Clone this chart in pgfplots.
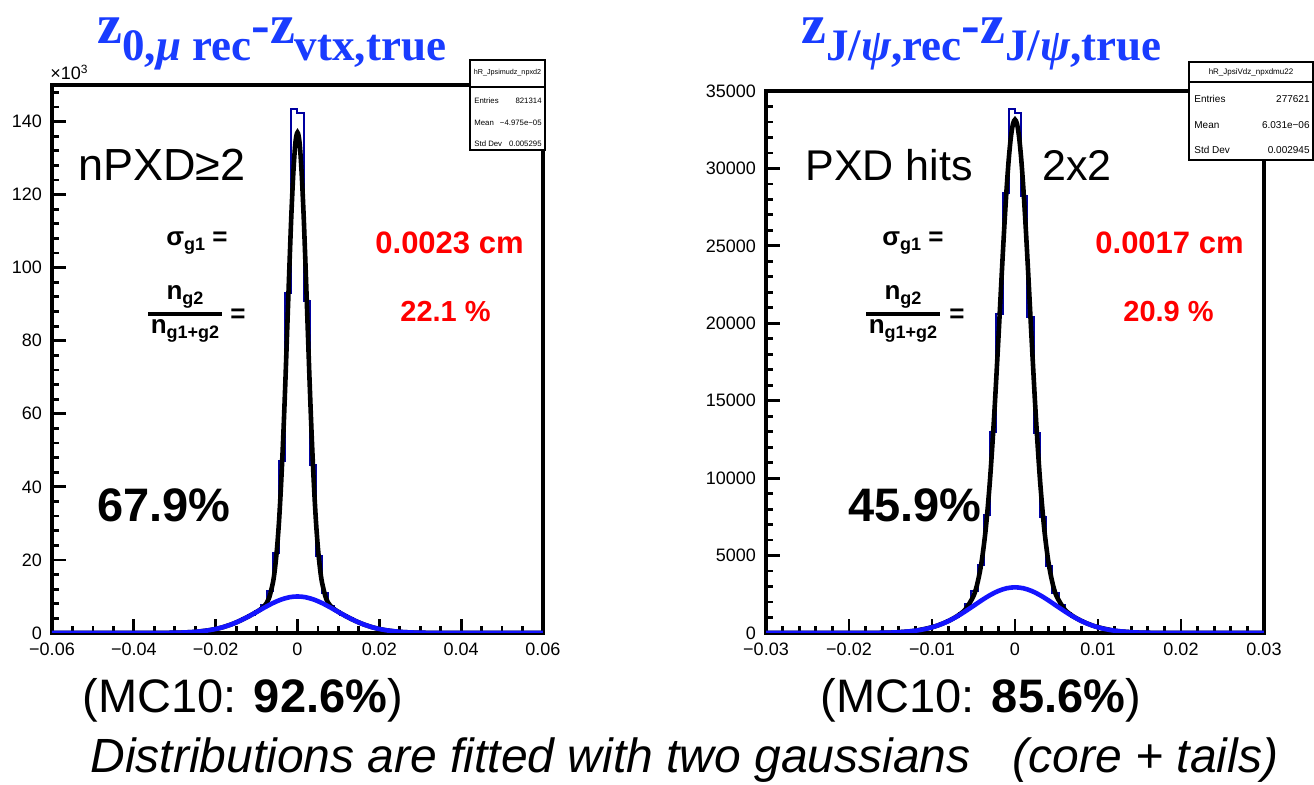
\documentclass[border=0pt]{standalone}
\usepackage{fontspec}
\setmainfont{Liberation Sans}
\newfontfamily\tnr{Liberation Serif}
\usepackage{pgfplots}
\pgfplotsset{compat=1.18}
\definecolor{histnavy}{RGB}{0,0,160}
\definecolor{fitblue}{RGB}{20,20,255}
\definecolor{titleblue}{RGB}{25,60,255}
\pgfplotsset{rootstyle/.style={
  scale only axis, anchor=south west, ymin=0,
  axis line style={line width=2pt},
  tick align=inside, xtick pos=lower, ytick pos=left,
  major tick length=7pt, minor tick length=3.5pt,
  every tick/.style={black, line width=1.4pt},
  tick label style={font=\fontsize{9}{10}\selectfont},
  yticklabel style={xshift=-1.5pt},
  xticklabel style={yshift=-1.5pt},
  scaled ticks=false,
}}
\newcommand{\fs}[1]{\fontsize{#1}{#1}\selectfont}
\begin{document}
\begin{tikzpicture}
\path[use as bounding box, fill=white] (0,0) rectangle (657pt,392.5pt);

% ---------------- left panel: z0 - zvtx (counts in thousands)
\begin{axis}[rootstyle, at={(26pt,76pt)}, width=245.5pt, height=274pt,
  xmin=-0.06, xmax=0.06, ymax=150,
  xtick={-0.06,-0.04,-0.02,0,0.02,0.04,0.06},
  xticklabels={−0.06,−0.04,−0.02,0,0.02,0.04,0.06},
  minor xtick={-0.055,-0.05,...,0.055},
  ytick={0,20,40,60,80,100,120,140},
  yticklabels={0,20,40,60,80,100,120,140},
  minor ytick={4,8,...,148}]
\addplot[histnavy, line width=1pt, const plot] coordinates {
 (-0.0600,0.05) (-0.0360,0.08) (-0.0300,0.15) (-0.0270,0.22) (-0.0255,0.34)
 (-0.0240,0.50) (-0.0225,0.73) (-0.0210,1.03) (-0.0195,1.43) (-0.0180,1.92)
 (-0.0165,2.53) (-0.0150,3.25) (-0.0135,4.06) (-0.0120,4.96) (-0.0105,5.9)
 (-0.0090,7.6) (-0.0075,11.5) (-0.0060,22) (-0.0045,47) (-0.0030,93)
 (-0.0015,143.5) (0.0000,142.3) (0.0015,91) (0.0030,46) (0.0045,21)
 (0.0060,11) (0.0075,7.4) (0.0090,5.9) (0.0105,4.96) (0.0120,4.06)
 (0.0135,3.25) (0.0150,2.53) (0.0165,1.92) (0.0180,1.43) (0.0195,1.03)
 (0.0210,0.73) (0.0225,0.50) (0.0240,0.34) (0.0255,0.22) (0.0270,0.14)
 (0.0300,0.08) (0.0360,0.05) (0.0600,0.05)
};
\addplot[black, line width=2.3pt, smooth] coordinates {
 (-0.06,0) (-0.04,0) (-0.035,0.01) (-0.03,0.07) (-0.028,0.13) (-0.025,0.31)
 (-0.022,0.69) (-0.02,1.09) (-0.018,1.66) (-0.016,2.42) (-0.014,3.38)
 (-0.012,4.50) (-0.01,5.77) (-0.009,6.5) (-0.008,7.5) (-0.007,9.4)
 (-0.006,13.8) (-0.0055,17.7) (-0.005,23.2) (-0.0045,30.8) (-0.004,40.9)
 (-0.0035,53.2) (-0.003,67.6) (-0.0025,83.5) (-0.002,99.5) (-0.0015,114.4)
 (-0.001,126.3) (-0.0005,134.3) (0,137.0) (0.0005,134.3) (0.001,126.3)
 (0.0015,114.4) (0.002,99.5) (0.0025,83.5) (0.003,67.6) (0.0035,53.2)
 (0.004,40.9) (0.0045,30.8) (0.005,23.2) (0.0055,17.7) (0.006,13.8)
 (0.007,9.4) (0.008,7.5) (0.009,6.5) (0.01,5.77) (0.012,4.50) (0.014,3.38)
 (0.016,2.42) (0.018,1.66) (0.02,1.09) (0.022,0.69) (0.025,0.31)
 (0.028,0.13) (0.03,0.07) (0.035,0.01) (0.04,0) (0.06,0)
};
\addplot[fitblue, line width=2.3pt, smooth] coordinates {
 (-0.06,0) (-0.04,0.001) (-0.035,0.011) (-0.03,0.068) (-0.028,0.13)
 (-0.025,0.313) (-0.022,0.685) (-0.02,1.09) (-0.018,1.66) (-0.016,2.42)
 (-0.014,3.38) (-0.012,4.50) (-0.01,5.75) (-0.008,7.01) (-0.006,8.19)
 (-0.004,9.15) (-0.002,9.78) (0,10) (0.002,9.78) (0.004,9.15) (0.006,8.19)
 (0.008,7.01) (0.01,5.75) (0.012,4.50) (0.014,3.38) (0.016,2.42)
 (0.018,1.66) (0.02,1.09) (0.022,0.685) (0.025,0.313) (0.028,0.13)
 (0.03,0.068) (0.035,0.011) (0.04,0.001) (0.06,0)
};
\end{axis}

% ---------------- right panel: zJ/psi rec - true
\begin{axis}[rootstyle, at={(383pt,76pt)}, width=249pt, height=271pt,
  xmin=-0.03, xmax=0.03, ymax=35000,
  xtick={-0.03,-0.02,-0.01,0,0.01,0.02,0.03},
  xticklabels={−0.03,−0.02,−0.01,0,0.01,0.02,0.03},
  minor xtick={-0.028,-0.026,...,0.029},
  ytick={0,5000,10000,15000,20000,25000,30000,35000},
  yticklabels={0,5000,10000,15000,20000,25000,30000,35000},
  minor ytick={1000,2000,...,34000}]
\addplot[histnavy, line width=1pt, const plot] coordinates {
 (-0.03000,20) (-0.01650,30) (-0.01500,40) (-0.01425,50) (-0.01350,80)
 (-0.01275,120) (-0.01200,180) (-0.01125,250) (-0.01050,350) (-0.00975,470)
 (-0.00900,630) (-0.00825,810) (-0.00750,1050) (-0.00675,1320) (-0.00600,1850)
 (-0.00525,2700) (-0.00450,4400) (-0.00375,7600) (-0.00300,13000)
 (-0.00225,20600) (-0.00150,28400) (-0.00075,33850) (0.00000,33600)
 (0.00075,28200) (0.00150,20400) (0.00225,12900) (0.00300,7500)
 (0.00375,4300) (0.00450,2600) (0.00525,1800) (0.00600,1300) (0.00675,1050)
 (0.00750,810) (0.00825,630) (0.00900,470) (0.00975,350) (0.01050,250)
 (0.01125,180) (0.01200,120) (0.01275,80) (0.01350,50) (0.01425,40)
 (0.01500,30) (0.01650,20) (0.03000,20)
};
\addplot[black, line width=2.3pt, smooth] coordinates {
 (-0.03,0) (-0.02,1) (-0.016,14) (-0.014,50) (-0.012,147) (-0.01,370)
 (-0.009,550) (-0.008,780) (-0.007,1080) (-0.006,1510) (-0.005,2390)
 (-0.0045,3270) (-0.004,4680) (-0.0035,6850) (-0.003,9980) (-0.0025,14100)
 (-0.002,19000) (-0.00175,21600) (-0.0015,24160) (-0.00125,26590)
 (-0.001,28770) (-0.00075,30610) (-0.0005,32000) (-0.00025,32860) (0,33150)
 (0.00025,32860) (0.0005,32000) (0.00075,30610) (0.001,28770)
 (0.00125,26590) (0.0015,24160) (0.00175,21600) (0.002,19000)
 (0.0025,14100) (0.003,9980) (0.0035,6850) (0.004,4680) (0.0045,3270)
 (0.005,2390) (0.006,1510) (0.007,1080) (0.008,780) (0.009,550) (0.01,370)
 (0.012,147) (0.014,50) (0.016,14) (0.02,1) (0.03,0)
};
\addplot[fitblue, line width=2.3pt, smooth] coordinates {
 (-0.03,0) (-0.02,1) (-0.016,14) (-0.014,50) (-0.012,147) (-0.011,237)
 (-0.01,366) (-0.009,545) (-0.008,777) (-0.007,1062) (-0.006,1393)
 (-0.005,1752) (-0.004,2116) (-0.003,2446) (-0.002,2714) (-0.001,2889)
 (0,2950) (0.001,2889) (0.002,2714) (0.003,2446) (0.004,2116) (0.005,1752)
 (0.006,1393) (0.007,1062) (0.008,777) (0.009,545) (0.01,366) (0.011,237)
 (0.012,147) (0.014,50) (0.016,14) (0.02,1) (0.03,0)
};
\end{axis}

% ---------------- titles
\node[anchor=base west, inner sep=0, text=titleblue] at (48.5pt,370.5pt)
 {\tnr\bfseries\fs{28}z\raisebox{-8.5pt}{\fs{22.5}0,\textit{μ} rec}-z\raisebox{-8.5pt}{\fs{22.5}vtx,true}};
\node[anchor=base west, inner sep=0, text=titleblue] at (400.5pt,370.5pt)
 {\tnr\bfseries\fs{28}z\raisebox{-8.5pt}{\fs{22.5}J/\textit{ψ},rec}-z\raisebox{-8.5pt}{\fs{22.5}J/\textit{ψ},true}};
\node[anchor=base west, inner sep=0] at (25pt,352.5pt) {\fs{9}×10\raisebox{3pt}{\fs{6}3}};

% ---------------- stat boxes
\draw[line width=1pt, fill=white] (235pt,317.5pt) rectangle (272.5pt,362.5pt);
\draw[line width=1pt] (235pt,349pt) -- (272.5pt,349pt);
\node[inner sep=0] at (253.75pt,356pt) {\fs{3.6}hR\_Jpsimudz\_npxd2};
\node[anchor=west, inner sep=0] at (237pt,342pt) {\fs{3.9}Entries};
\node[anchor=east, inner sep=0] at (271pt,342pt) {\fs{3.9}821314};
\node[anchor=west, inner sep=0] at (237pt,331pt) {\fs{3.9}Mean};
\node[anchor=east, inner sep=0] at (271pt,331pt) {\fs{3.9}−4.975e−05};
\node[anchor=west, inner sep=0] at (237pt,320.5pt) {\fs{3.9}Std Dev};
\node[anchor=east, inner sep=0] at (271pt,320.5pt) {\fs{3.9}0.005295};

\draw[line width=1pt, fill=white] (594.5pt,312.5pt) rectangle (656.5pt,361.5pt);
\draw[line width=1pt] (594.5pt,351.5pt) -- (656.5pt,351.5pt);
\node[inner sep=0] at (625.5pt,356.5pt) {\fs{4}hR\_JpsiVdz\_npxdmu22};
\node[anchor=west, inner sep=0] at (597pt,343pt) {\fs{5}Entries};
\node[anchor=east, inner sep=0] at (655pt,343pt) {\fs{5}277621};
\node[anchor=west, inner sep=0] at (597pt,330pt) {\fs{5}Mean};
\node[anchor=east, inner sep=0] at (655pt,330pt) {\fs{5}6.031e−06};
\node[anchor=west, inner sep=0] at (597pt,317.5pt) {\fs{5}Std Dev};
\node[anchor=east, inner sep=0] at (655pt,317.5pt) {\fs{5}0.002945};

% ---------------- left annotations
\node[anchor=base west, inner sep=0] at (39pt,302pt) {\fs{22.5}nPXD≥2};
\node[anchor=west, inner sep=0] at (83pt,271pt) {\bfseries\fs{13}σ\raisebox{-2.5pt}{\fs{9}g1} =};
\node[inner sep=0] at (92.5pt,244pt) {\bfseries\fs{13}n\raisebox{-2.5pt}{\fs{9}g2}};
\draw[line width=1.6pt] (74pt,235.5pt) -- (111pt,235.5pt);
\node[inner sep=0] at (92.5pt,227pt) {\bfseries\fs{13}n\raisebox{-2.5pt}{\fs{9}g1+g2}};
\node[inner sep=0] at (119pt,234.5pt) {\bfseries\fs{13}=};
\node[anchor=west, inner sep=0, text=red] at (187.5pt,271pt) {\bfseries\fs{15.5}0.0023 cm};
\node[anchor=west, inner sep=0, text=red] at (200pt,236.5pt) {\bfseries\fs{14.5}22.1 \%};
\node[anchor=west, inner sep=0] at (48.5pt,140pt) {\bfseries\fs{23.5}67.9\%};
\node[anchor=west, inner sep=0] at (41pt,42.5pt) {\fs{23.5}(MC10: \textbf{92.6\%})};

% ---------------- right annotations
\node[anchor=base west, inner sep=0] at (402.5pt,302pt) {\fs{21.5}PXD hits};
\node[anchor=base west, inner sep=0] at (521pt,302pt) {\fs{21.5}2x2};
\node[anchor=west, inner sep=0] at (441pt,271pt) {\bfseries\fs{13}σ\raisebox{-2.5pt}{\fs{9}g1} =};
\node[inner sep=0] at (451.5pt,244pt) {\bfseries\fs{13}n\raisebox{-2.5pt}{\fs{9}g2}};
\draw[line width=1.6pt] (433pt,235.5pt) -- (470pt,235.5pt);
\node[inner sep=0] at (451.5pt,227pt) {\bfseries\fs{13}n\raisebox{-2.5pt}{\fs{9}g1+g2}};
\node[inner sep=0] at (478.5pt,234.5pt) {\bfseries\fs{13}=};
\node[anchor=west, inner sep=0, text=red] at (547.5pt,271pt) {\bfseries\fs{15.5}0.0017 cm};
\node[anchor=west, inner sep=0, text=red] at (561.5pt,236.5pt) {\bfseries\fs{14.5}20.9 \%};
\node[anchor=west, inner sep=0] at (424pt,140pt) {\bfseries\fs{23.5}45.9\%};
\node[anchor=west, inner sep=0] at (410pt,42.5pt) {\fs{23.5}(MC10: \textbf{85.6\%})};

% ---------------- caption line
\node[anchor=west, inner sep=0] at (45pt,12.5pt) {\itshape\fs{24}Distributions are fitted with two gaussians\hspace{21pt}(core + tails)};
\end{tikzpicture}
\end{document}
